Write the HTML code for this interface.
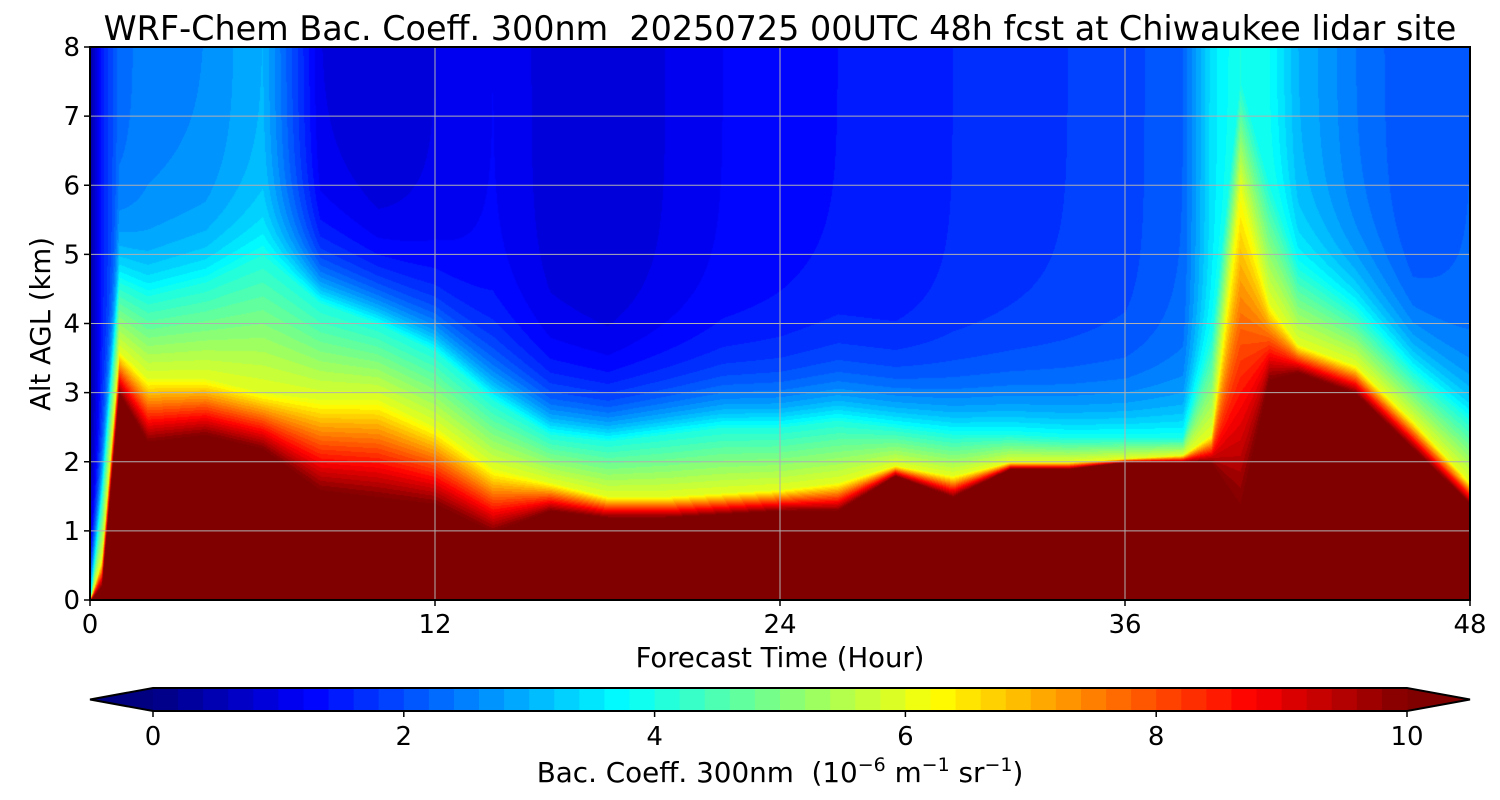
<!DOCTYPE html>
<html><head><meta charset="utf-8">
<style>
body{margin:0;background:#fff;width:1500px;height:800px;overflow:hidden;font-family:"DejaVu Sans",sans-serif}
svg text{font-family:"DejaVu Sans",sans-serif;fill:#000;white-space:pre}
</style></head>
<body>
<div style="position:relative;width:1500px;height:800px">
<canvas id="cv" width="1380" height="553" style="position:absolute;left:90px;top:47px"></canvas>
<svg id="sv" width="1500" height="800" style="position:absolute;left:0;top:0"></svg>
</div>
<script>
// Column profile data (hours; heights in km; upper-level value)
const times = [0,0.4,1,2,4,6,8,10,12,14,16,18,20,22,24,26,28,30,32,34,36,38,39,40,41,42,44,46,48];
const h10   = [0,0.2,3.0,2.3,2.4,2.2,1.6,1.5,1.4,1.0,1.3,1.2,1.2,1.25,1.3,1.3,1.8,1.5,1.9,1.9,2.0,2.0,2.0,1.4,3.2,3.3,3.0,2.2,1.4];
const h6    = [0,0.6,3.6,3.2,3.2,3.0,2.9,2.9,2.5,1.9,1.7,1.5,1.5,1.55,1.6,1.7,1.95,1.8,2.0,2.0,2.05,2.1,2.4,6.0,4.3,3.7,3.4,2.6,1.7];
const h4    = [0,1.5,4.6,4.4,4.6,5.0,4.3,4.0,3.6,2.9,2.4,2.3,2.4,2.5,2.5,2.6,2.5,2.4,2.4,2.35,2.35,2.35,3.8,7.5,6.0,4.8,4.2,3.3,2.6];
const upper = [0.3,1.5,2.3,2.5,2.6,3.0,1.0,0.8,1.0,1.2,0.9,0.8,1.0,1.2,1.3,1.4,1.4,1.6,1.7,1.8,1.9,2.2,3.5,4.0,3.8,3.0,2.4,2.0,2.2];
const xTicks = [0,12,24,36,48];
const yTicks = [0,1,2,3,4,5,6,7,8];
const cbTicks = [0,2,4,6,8,10];

const X0=90,X1=1470,Y0=600,Y1=47;
const xs=t=>X0+(t/48)*(X1-X0);
const ys=z=>Y0-(z/8)*(Y0-Y1);
const cs=v=>153+(v/10)*(1407-153);
function jet(v){const c=x=>Math.max(0,Math.min(1,x));return [c(1.5-Math.abs(4*v-3)),c(1.5-Math.abs(4*v-2)),c(1.5-Math.abs(4*v-1))].map(a=>Math.round(a*255));}
function interp(arr,t){for(let i=0;i<times.length-1;i++){if(t<=times[i+1]){const f=(t-times[i])/(times[i+1]-times[i]);return arr[i]+(arr[i+1]-arr[i])*f;}}return arr[arr.length-1];}
function value(t,z){
  const a=interp(h10,t),b=Math.max(interp(h6,t),a+0.05),c=Math.max(interp(h4,t),b+0.05),u=interp(upper,t);
  if(z<a)return 10.5;
  if(z<b)return 10-4*(z-a)/(b-a);
  if(z<c)return 6-2*(z-b)/(c-b);
  return u+(4-u)*Math.exp(-(z-c)/0.6);
}
function colorFor(val){if(val>=10)return [128,0,0];if(val<0)val=0;const q=Math.min(9.9,Math.floor(val/0.2)*0.2+0.1);return jet(q/10);}
const cv=document.getElementById('cv'),ctx=cv.getContext('2d');
const img=ctx.createImageData(cv.width,cv.height);
for(let px=0;px<cv.width;px++){const t=px/cv.width*48;
  for(let py=0;py<cv.height;py++){const z=(cv.height-py)/cv.height*8;const c=colorFor(value(t,z));const k=(py*cv.width+px)*4;img.data[k]=c[0];img.data[k+1]=c[1];img.data[k+2]=c[2];img.data[k+3]=255;}}
ctx.putImageData(img,0,0);

const sv=document.getElementById('sv');const NS='http://www.w3.org/2000/svg';
function el(tag,at,txt){const e=document.createElementNS(NS,tag);for(const k in at)e.setAttribute(k,at[k]);if(txt!==undefined)e.textContent=txt;sv.appendChild(e);return e;}
let e;
for(const t of xTicks){
  e=el('line',{x1:xs(t),x2:xs(t),y1:Y1,y2:Y0,stroke:'#b0b0b0','stroke-width':1});
  
  
  e=el('line',{x1:xs(t),x2:xs(t),y1:Y0,y2:Y0+6,stroke:'#000','stroke-width':1.5});
  
  
  e=el('text',{x:xs(t),y:633,'font-size':26,'text-anchor':'middle'},String(t));
  
  
}
for(const z of yTicks){
  e=el('line',{x1:X0,x2:X1,y1:ys(z),y2:ys(z),stroke:'#b0b0b0','stroke-width':1});
  
  
  e=el('line',{x1:X0-6,x2:X0,y1:ys(z),y2:ys(z),stroke:'#000','stroke-width':1.5});
  
  
  e=el('text',{x:80,y:ys(z)+9,'font-size':26,'text-anchor':'end'},String(z));
  
  
}
e=el('rect',{x:X0,y:Y1,width:X1-X0,height:Y0-Y1,fill:'none',stroke:'#000','stroke-width':2});


e=el('text',{x:780,y:40,'font-size':33.4,'text-anchor':'middle'},'WRF-Chem Bac. Coeff. 300nm  20250725 00UTC 48h fcst at Chiwaukee lidar site');


e=el('text',{x:780,y:667,'font-size':27.5,'text-anchor':'middle'},'Forecast Time (Hour)');


e=el('text',{x:50,y:324,'font-size':27.5,'text-anchor':'middle',transform:'rotate(-90 50 324)'},'Alt AGL (km)');


const CB0=688,CB1=711;
e=el('polygon',{points:`90,${(CB0+CB1)/2} 153,${CB0} 153,${CB1}`,fill:'rgb(0,0,128)'});


e=el('polygon',{points:`1470,${(CB0+CB1)/2} 1407,${CB0} 1407,${CB1}`,fill:'rgb(128,0,0)'});


for(let i=0;i<50;i++){const v=i*0.2;const c=colorFor(v+0.05);
  e=el('rect',{x:cs(v),y:CB0,width:cs(0.2)-cs(0)+0.6,height:CB1-CB0,fill:`rgb(${c})`});
  
  
}
e=el('polygon',{points:`90,${(CB0+CB1)/2} 153,${CB0} 1407,${CB0} 1470,${(CB0+CB1)/2} 1407,${CB1} 153,${CB1}`,fill:'none',stroke:'#000','stroke-width':2});


for(const v of cbTicks){
  e=el('line',{x1:cs(v),x2:cs(v),y1:CB1,y2:CB1+6,stroke:'#000','stroke-width':1.5});
  
  
  e=el('text',{x:cs(v),y:745,'font-size':26,'text-anchor':'middle'},String(v));
  
  
}
e=el('text',{x:780,y:782,'font-size':27.8,'text-anchor':'middle'});
e.innerHTML='Bac. Coeff. 300nm  (10<tspan dy="-11" font-size="19">−6</tspan><tspan dy="11"> m</tspan><tspan dy="-11" font-size="19">−1</tspan><tspan dy="11"> sr</tspan><tspan dy="-11" font-size="19">−1</tspan><tspan dy="11">)</tspan>';


</script>
</body></html>
